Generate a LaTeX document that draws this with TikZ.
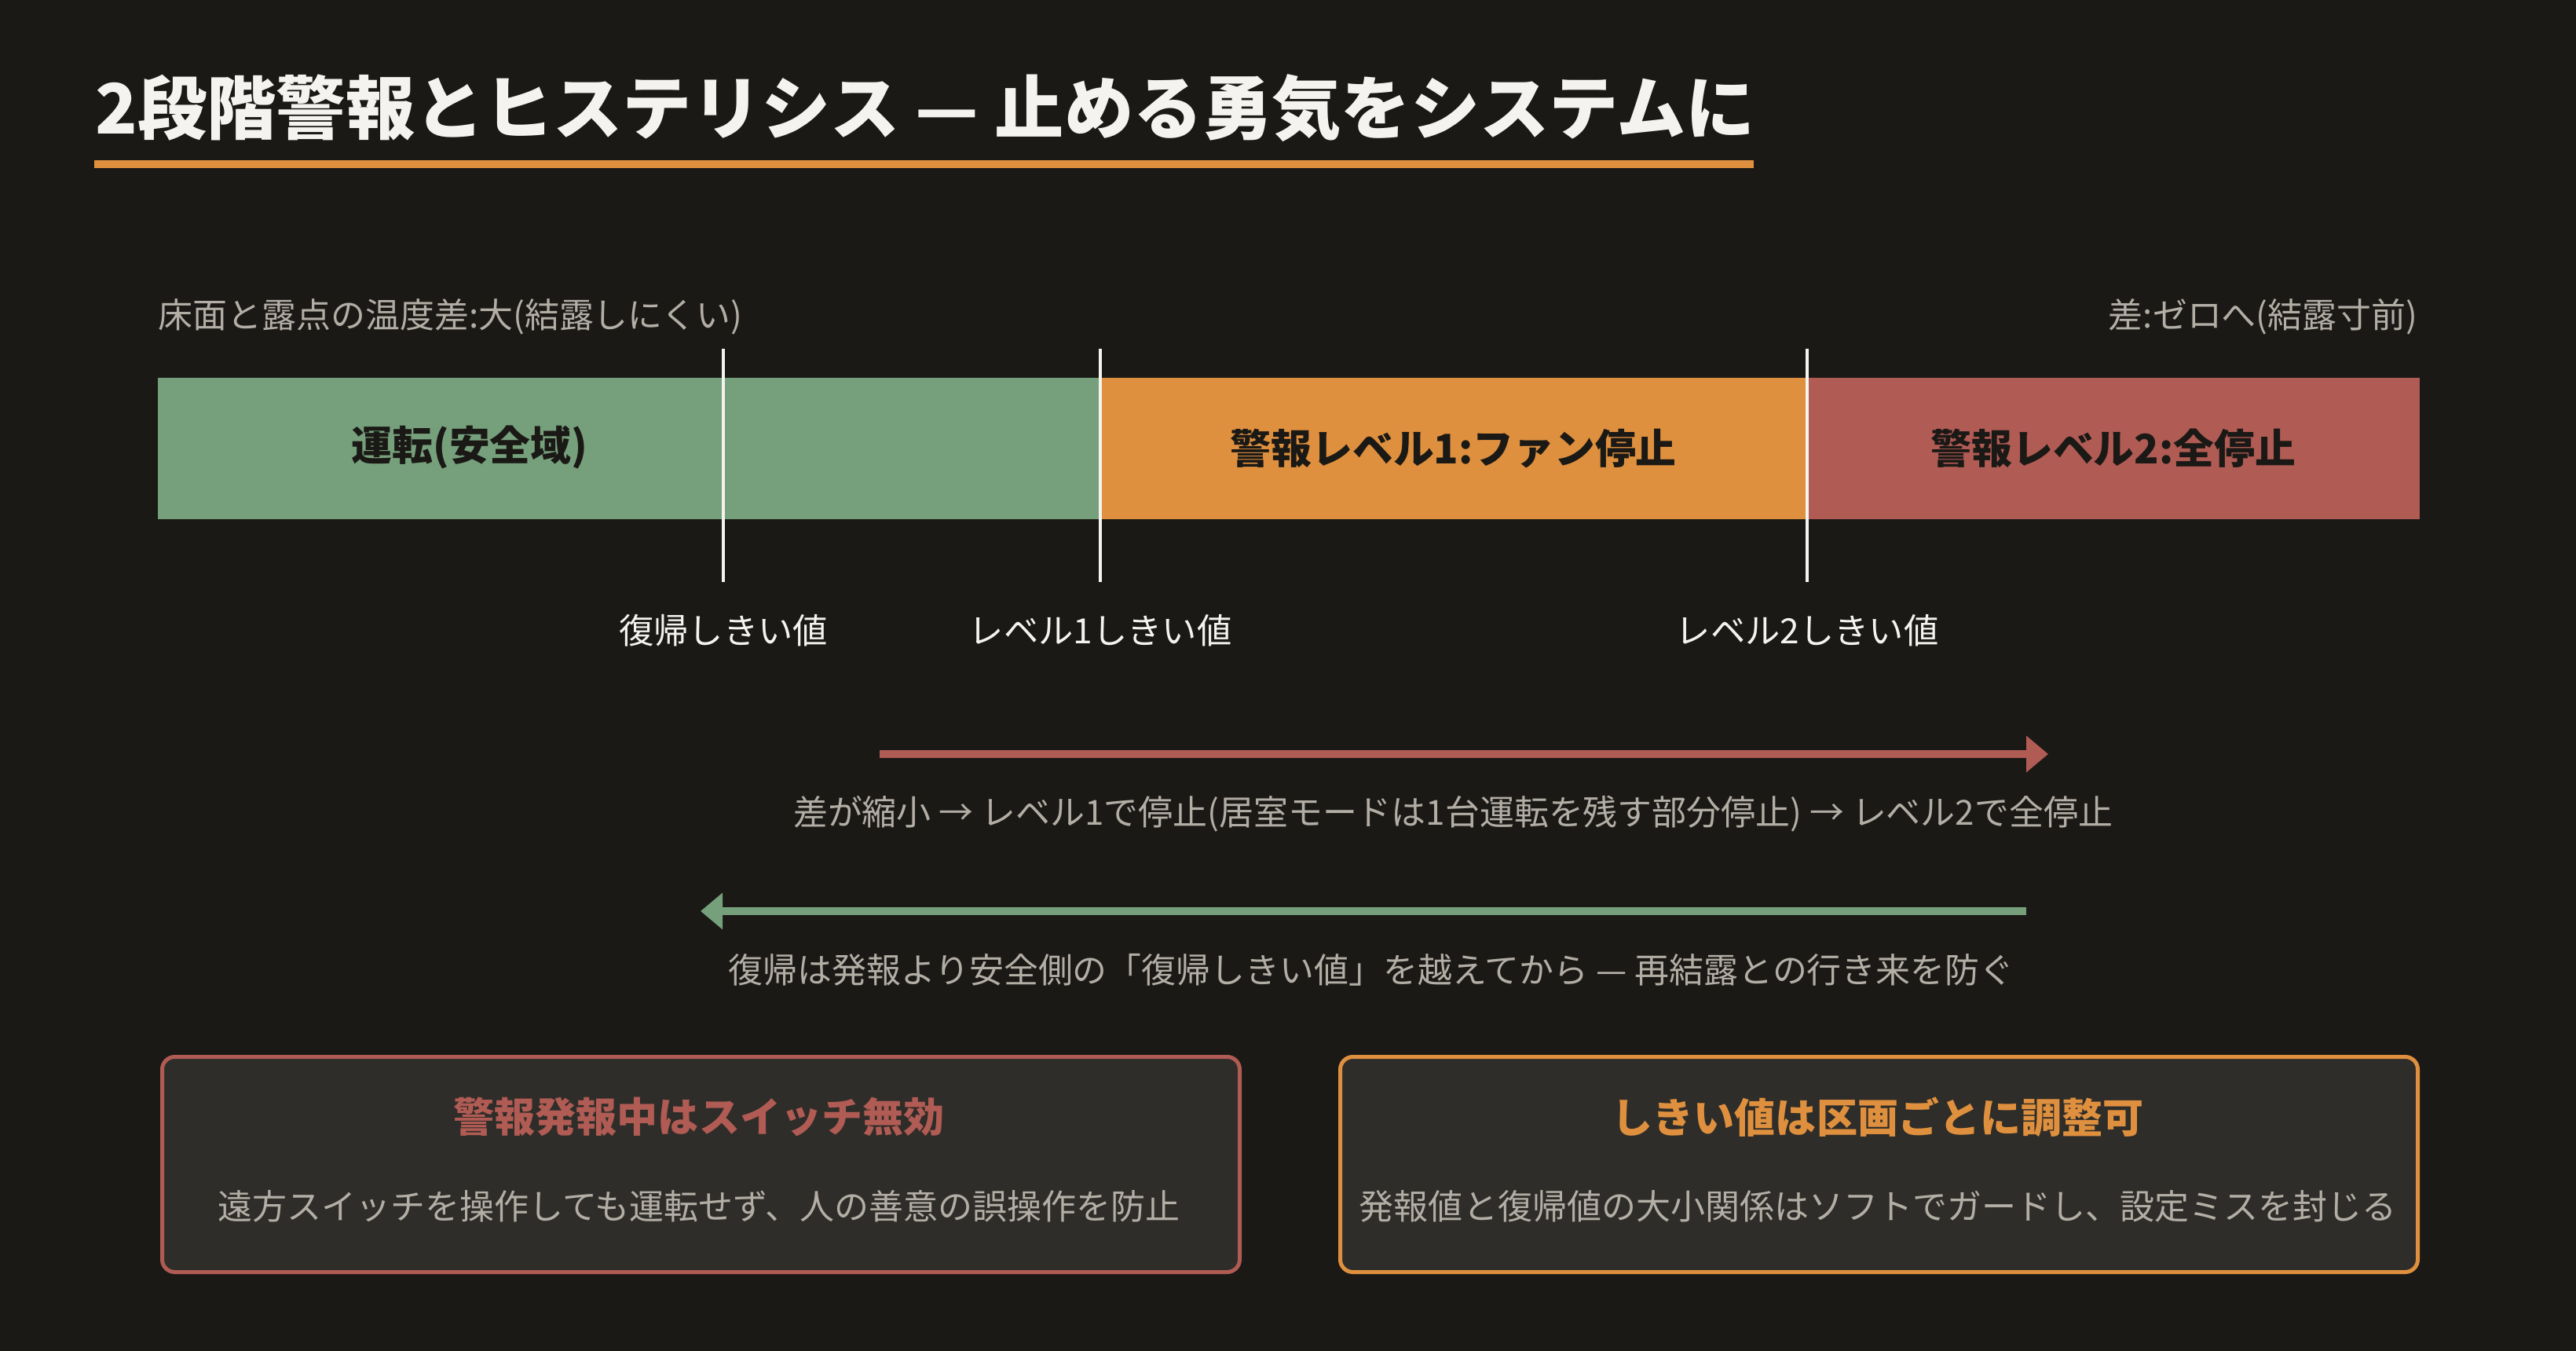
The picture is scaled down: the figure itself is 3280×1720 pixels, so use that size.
\documentclass[tikz,border=0pt]{standalone}
\usepackage{fontspec}
\setmainfont{Noto Sans CJK JP}
\usetikzlibrary{arrows.meta,positioning}
\definecolor{bgdark}{HTML}{1B1916}
\definecolor{safegreen}{HTML}{76A07C}
\definecolor{warnorange}{HTML}{DF903E}
\definecolor{stopred}{HTML}{B05B54}
\definecolor{softgrey}{HTML}{B3AEA5}
\definecolor{cardfill}{HTML}{2F2D29}
\definecolor{chalk}{HTML}{F4F3EF}

\begin{document}
\begin{tikzpicture}[x=0.1mm,y=-0.1mm]
\tikzstyle{heading} = [font=\bfseries\fontsize{25.1}{28}\selectfont, text=chalk, inner sep=0pt]
\tikzstyle{zone} = [rectangle, anchor=north west, minimum height=18mm, inner sep=0pt]
\tikzstyle{zonetext} = [font=\bfseries\fontsize{14.75}{18}\selectfont, text=bgdark, inner sep=0pt]
\tikzstyle{thresh} = [draw=chalk, line width=0.45mm]
\tikzstyle{threshtext} = [font=\fontsize{12.6}{15}\selectfont, text=chalk, inner sep=0pt]
\tikzstyle{note} = [font=\fontsize{12.5}{15}\selectfont, text=softgrey, inner sep=0pt]
\tikzstyle{flow} = [line width=1mm, -{Triangle[length=2.8mm,width=4.5mm]}]
\tikzstyle{card} = [rectangle, rounded corners=1.6mm, fill=cardfill, line width=0.5mm,
minimum width=137.2mm, minimum height=27.4mm, anchor=north west, inner sep=0pt]
\tikzstyle{cardtitle} = [font=\bfseries\fontsize{14.8}{18}\selectfont, inner sep=0pt]
\tikzstyle{cardbody} = [font=\fontsize{12.52}{15}\selectfont, text=softgrey, inner sep=0pt]

\fill[bgdark] (0,0) rectangle (3280,1720);
\useasboundingbox (0,0) rectangle (3280,1720);

% title
\node[heading, anchor=west] (title) at (121,138) {2段階警報とヒステリシス — 止める勇気をシステムに};
\coordinate (ruleL) at (120,209);
\coordinate (ruleR) at (2233,209);
\draw[warnorange, line width=1mm] (ruleL) -- (ruleR);

% scale ends
\node[note, anchor=west] (farside) at (201,403) {床面と露点の温度差:大(結露しにくい)};
\node[note, anchor=east] (nearside) at (3079,403) {差:ゼロへ(結露寸前)};

% bar
\node[zone, fill=safegreen, minimum width=120mm] (run) at (200,480) {};
\node[zone, fill=warnorange, minimum width=90mm] (lvlone) at (1400,480) {};
\node[zone, fill=stopred, minimum width=78mm] (lvltwo) at (2300,480) {};
\node[zonetext] (runtxt) at (598,570) {運転(安全域)};
\node[zonetext] (lvlonetxt) at (lvlone.center) {警報レベル1:ファン停止};
\node[zonetext] (lvltwotxt) at (lvltwo.center) {警報レベル2:全停止};

% thresholds
\coordinate (backtop) at (921,444);
\coordinate (backbot) at (921,741);
\coordinate (onetop) at (1401,444);
\coordinate (onebot) at (1401,741);
\coordinate (twotop) at (2301,444);
\coordinate (twobot) at (2301,741);
\draw[thresh] (backtop) -- (backbot);
\draw[thresh] (onetop) -- (onebot);
\draw[thresh] (twotop) -- (twobot);
\node[threshtext] (backlbl) at (921,803) {復帰しきい値};
\node[threshtext] (onelbl) at (1401,803) {レベル1しきい値};
\node[threshtext] (twolbl) at (2301,803) {レベル2しきい値};

% direction arrows
\coordinate (fwdstart) at (1120,960);
\coordinate (fwdend) at (2608,960);
\draw[flow, stopred] (fwdstart) -- (fwdend);
\node[note] (fwdtxt) at (1850,1036) {差が縮小 → レベル1で停止(居室モードは1台運転を残す部分停止) → レベル2で全停止};
\coordinate (retstart) at (2580,1160);
\coordinate (retend) at (892,1160);
\draw[flow, safegreen] (retstart) -- (retend);
\node[note] (rettxt) at (1746,1235) {復帰は発報より安全側の「復帰しきい値」を越えてから — 再結露との行き来を防ぐ};

% cards
\node[card, draw=stopred] (lockcard) at (204,1343) {};
\node[cardtitle, text=stopred] (locktitle) at (890,1422) {警報発報中はスイッチ無効};
\node[cardbody] (lockbody) at (890,1536) {遠方スイッチを操作しても運転せず、人の善意の誤操作を防止};
\node[card, draw=warnorange] (tunecard) at (1704,1343) {};
\node[cardtitle, text=warnorange] (tunetitle) at (2391,1422) {しきい値は区画ごとに調整可};
\node[cardbody] (tunebody) at (2391,1536) {発報値と復帰値の大小関係はソフトでガードし、設定ミスを封じる};

\end{tikzpicture}
\end{document}
